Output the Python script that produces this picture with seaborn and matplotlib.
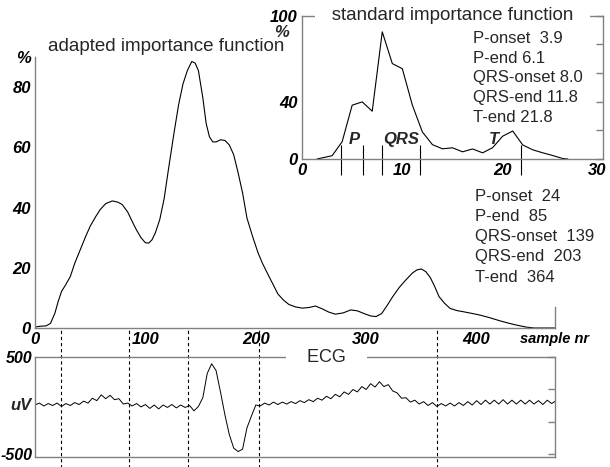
import matplotlib
matplotlib.use("Agg")
import matplotlib.pyplot as plt
import matplotlib.transforms as mtransforms
import seaborn as sns
import pandas as pd

# ---------------- data ----------------
# adapted importance function (main panel), sample nr vs %
main_x = [0, 5, 10, 14, 18, 21, 24, 28, 32, 36, 41, 46, 50, 55, 59, 64, 70, 75, 79, 84,
          88, 92, 96, 100, 103, 106, 109, 113, 117, 121, 126, 130, 134, 138, 142, 145,
          148, 152, 155, 158, 161, 164, 168, 172, 176, 180, 184, 188, 192, 197, 202, 206,
          211, 216, 220, 225, 230, 236, 242, 248, 254, 260, 266, 272, 279, 286, 292, 298,
          304, 309, 314, 319, 324, 330, 336, 342, 346, 350, 354, 358, 362, 366, 371, 376,
          382, 388, 395, 403, 412, 421, 430, 437, 445, 452, 460, 471]
main_y = [0.3, 0.6, 0.7, 1.5, 4.9, 8.8, 12.1, 14.5, 17.1, 21.5, 26, 30.5, 33.8, 37, 39.3,
          41.3, 42.2, 41.8, 41, 38.5, 35.4, 32.5, 30, 28.3, 28.2, 29.3, 31.6, 36, 43, 53,
          65, 74, 81, 85.5, 88.5, 88, 85.5, 76.5, 68, 63.5, 61.8, 61.8, 62.5, 62.3, 60.8,
          57.5, 51.5, 44.9, 36.5, 30.5, 25, 21.5, 17.8, 14.2, 11.3, 9.3, 7.8, 7, 6.6, 6.8,
          7.3, 6.4, 5.3, 4.6, 5, 6, 5.7, 4.8, 4, 3.8, 4.8, 7.5, 10.4, 13.5, 16, 18.3, 19.3,
          19.6, 18.7, 16.8, 13.8, 10.4, 8.2, 6.5, 5.8, 5.4, 4.9, 4.3, 3.4, 2.4, 1.5, 0.9,
          0.3, 0, 0, 0]

# standard importance function (inset)
std_x = [1.5, 3, 4, 5, 6, 7, 8, 9, 10, 11, 12, 13, 14, 15, 16, 17, 18, 19, 20, 21, 22,
         23, 24, 25, 26, 26.5]
std_y = [0, 2.3, 12, 37.5, 39.8, 33.3, 88.6, 66.5, 62.9, 37.5, 18.8, 10, 7.1, 7.8, 5,
         7, 4.3, 7.9, 15.9, 19.5, 9.8, 6.4, 4.3, 2.4, 0.3, 0]

# ECG (uV), one value every 4 samples
ecg_step = 4
ecg_uv = [5, 25, -5, 20, 0, 25, -10, 20, 0, 30, 10, 45, 25, 75, 50, 110, 70, 105, 60, 70,
          15, 25, -5, 20, -15, 10, -30, 5, -35, 5, -20, 10, -25, 5, -20, 0, -55, -10, 80,
          330, 430, 360, 140, -95, -300, -440, -475, -450, -230, -110, 5, -5, 25, 5, 35, 10,
          35, 15, 40, 20, 50, 30, 60, 40, 75, 55, 95, 70, 115, 90, 140, 115, 165, 140, 195,
          165, 225, 190, 245, 195, 215, 150, 130, 75, 80, 35, 55, 15, 40, 0, 30, -10, 20,
          -5, 25, -5, 30, 0, 40, 5, 50, 10, 55, 15, 55, 15, 60, 15, 55, 15, 55, 15, 55, 15,
          50, 10, 55, 20, 50]
ecg_x = [i * ecg_step for i in range(len(ecg_uv))]

# fiducial points
main_marks = [24, 85, 139, 203, 364]
std_marks = [3.9, 6.1, 8.0, 11.8, 21.8]
main_texts = ["P-onset  24", "P-end  85", "QRS-onset  139", "QRS-end  203", "T-end  364"]
std_texts = ["P-onset  3.9", "P-end 6.1", "QRS-onset 8.0", "QRS-end 11.8", "T-end 21.8"]
wave_names = ["P", "QRS", "T"]
wave_pos = [5.2, 9.9, 19.1]

main_xticks = [0, 100, 200, 300, 400, 471]
main_xticklabels = ["0", "100", "200", "300", "400", "sample nr"]
main_yticks = [0, 20, 40, 60, 80, 90]
main_yticklabels = ["0", "20", "40", "60", "80", "%"]
std_xticks = [0, 10, 20, 30]
std_yticks = [0, 40, 100]
ecg_yticks = [500, 166.7, -166.7, -500]
ecg_yticklabels = ["500", "", "", "-500"]

# ---------------- style ----------------
sns.set_style("white")
plt.rcParams["font.family"] = ["Liberation Sans", "DejaVu Sans"]

W, H = 610, 467
fig = plt.figure(figsize=(W / 100, H / 100), dpi=100)


def rect(l, t, r, b):
    return [l / W, 1 - b / H, (r - l) / W, (b - t) / H]


SPINE = "#808080"
TICK_FS = 12
tickfont = dict(fontsize=TICK_FS, fontweight="bold", fontstyle="italic")


def style_axes(a, fs=TICK_FS, pad=3):
    for s in a.spines.values():
        s.set_color(SPINE)
        s.set_linewidth(1.0)
    a.tick_params(which="both", direction="in", length=5, width=1.0, color=SPINE,
                  labelcolor="black", pad=pad)
    for lab in a.get_xticklabels() + a.get_yticklabels():
        lab.set_fontweight("bold")
        lab.set_fontstyle("italic")
        lab.set_fontsize(fs)
    a.set_xlabel("")
    a.set_ylabel("")


# ---------------- main panel ----------------
ax = fig.add_axes(rect(35, 57, 555, 328))
sns.lineplot(data=pd.DataFrame({"x": main_x, "y": main_y}), x="x", y="y", ax=ax,
             color="black", lw=0.8, estimator=None)
ax.set_xlim(0, 471)
ax.set_ylim(0, 90)
ax.set_xticks(main_xticks, main_xticklabels)
ax.set_xticks([50, 150, 250, 350, 450], minor=True)
ax.set_yticks(main_yticks, main_yticklabels)
ax.set_yticks([10, 30, 50, 70], minor=True)
style_axes(ax)
ax.spines["top"].set_visible(False)
ax.spines["right"].set_bounds(0, 7)
ax.get_xticklabels()[-1].set_fontsize(10.5)
ax.text(0.025, 1.037, "adapted importance function", transform=ax.transAxes,
        ha="left", va="center", fontsize=13.5)
for i, t in enumerate(main_texts):
    ax.annotate(t, xy=(0.846, 0.487), xycoords="axes fraction",
                xytext=(0, -14.6 * i), textcoords="offset points",
                ha="left", va="center", fontsize=12)

# ---------------- inset ----------------
axi = fig.add_axes(rect(302, 15.5, 603, 159))
axi.set_facecolor("white")
sns.lineplot(data=pd.DataFrame({"x": std_x, "y": std_y}), x="x", y="y", ax=axi,
             color="black", lw=0.8, estimator=None)
axi.set_xlim(0, 30)
axi.set_ylim(0, 100)
axi.set_xticks(std_xticks, [str(v) for v in std_xticks])
axi.set_xticks([5, 15, 25], minor=True)
axi.set_yticks(std_yticks, [str(v) for v in std_yticks])
axi.set_yticks([20, 60, 80], minor=True)
style_axes(axi)
axi.tick_params(axis="y", which="both", right=True)
last = axi.get_xticklabels()[-1]
last.set_transform(last.get_transform() +
                   mtransforms.ScaledTranslation(-6 / 100, 0, fig.dpi_scale_trans))
axi.annotate("%", xy=(0, 88.5), xycoords=("axes fraction", "data"), xytext=(-9.5, 0),
             textcoords="offset points", ha="right", va="center", **tickfont)
axi.vlines(std_marks, -11, 10, colors="black", lw=0.8, clip_on=False)
for name, p in zip(wave_names, wave_pos):
    axi.text(p, 13.5, name, ha="center", va="center", **tickfont)
axi.text(0.5, 1.0, "   standard importance function   ", transform=axi.transAxes,
         ha="center", va="center", fontsize=13.5,
         bbox=dict(boxstyle="square,pad=0.05", fc="white", ec="none"))
for i, t in enumerate(std_texts):
    axi.annotate(t, xy=(0.568, 0.84), xycoords="axes fraction",
                 xytext=(0, -14.2 * i), textcoords="offset points",
                 ha="left", va="center", fontsize=12)

# ---------------- ECG panel ----------------
axe = fig.add_axes(rect(35, 357, 555, 457))
sns.lineplot(data=pd.DataFrame({"x": ecg_x, "y": ecg_uv}), x="x", y="y", ax=axe,
             color="black", lw=0.7, estimator=None)
axe.set_xlim(0, 471)
axe.set_ylim(-531, 500)
axe.set_xticks([])
axe.set_yticks(ecg_yticks, ecg_yticklabels)
style_axes(axe, fs=11.5, pad=1.5)
axe.tick_params(axis="y", which="both", right=True)
axe.annotate("uV", xy=(0, 0), xycoords=("axes fraction", "data"), xytext=(-2.5, 0),
             textcoords="offset points", ha="right", va="center", **tickfont)
axe.text(0.56, 1.0, "    ECG    ", transform=axe.transAxes, ha="center", va="center",
         fontsize=13, bbox=dict(boxstyle="square,pad=0.05", fc="white", ec="none"))
for m in main_marks:
    axe.axvline(m, ymin=-0.12, ymax=1.29, clip_on=False, color="black", lw=0.8,
                ls=(0, (3, 2.5)))

fig.savefig("out.png", dpi=100)
